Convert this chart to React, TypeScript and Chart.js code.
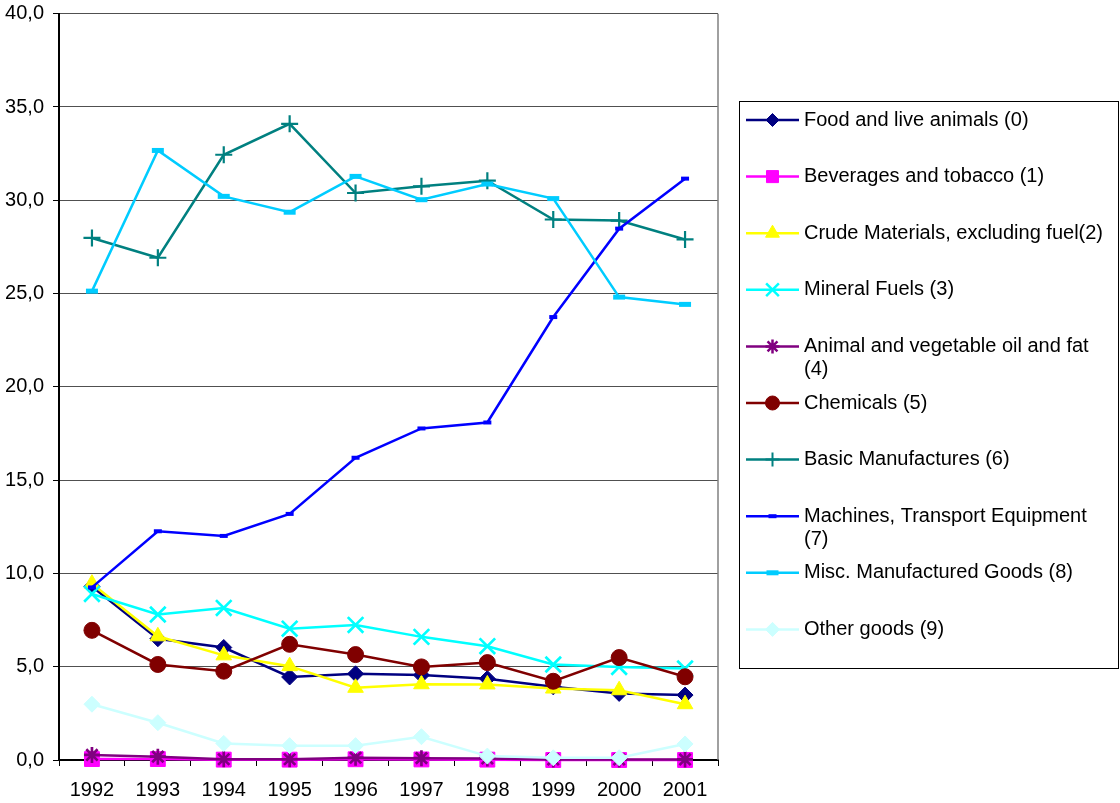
import React, { useEffect, useRef } from "react";
import { Chart, registerables } from "chart.js";
import { drawPoint } from "chart.js/helpers";

Chart.register(...registerables);

const years = ["1992", "1993", "1994", "1995", "1996", "1997", "1998", "1999", "2000", "2001"];

const food = [9.3, 6.5, 6.03, 4.45, 4.62, 4.55, 4.36, 3.92, 3.57, 3.48];
const beverages = [0.05, 0.05, 0.02, 0.02, 0.04, 0.03, 0.02, 0.0, 0.0, 0.0];
const crude = [9.45, 6.63, 5.61, 5.03, 3.87, 4.06, 4.05, 3.83, 3.74, 2.99];
const mineral = [8.9, 7.8, 8.15, 7.04, 7.24, 6.6, 6.1, 5.12, 4.99, 4.9];
const animalOil = [0.27, 0.18, 0.04, 0.04, 0.12, 0.1, 0.08, 0.03, 0.03, 0.03];
const chemicals = [6.95, 5.12, 4.76, 6.2, 5.65, 4.99, 5.22, 4.22, 5.49, 4.46];
const basic = [27.98, 26.92, 32.44, 34.1, 30.39, 30.75, 31.05, 28.97, 28.91, 27.9];
const machines = [9.25, 12.26, 12.01, 13.19, 16.2, 17.77, 18.09, 23.74, 28.48, 31.16];
const misc = [25.13, 32.67, 30.21, 29.36, 31.28, 30.03, 30.87, 30.09, 24.81, 24.42];
const other = [2.99, 2.0, 0.89, 0.77, 0.77, 1.25, 0.21, 0.12, 0.12, 0.86];

const seriesNames = [
  "Food and live animals (0)",
  "Beverages and tobacco (1)",
  "Crude Materials, excluding fuel(2)",
  "Mineral Fuels (3)",
  "Animal and vegetable oil and fat (4)",
  "Chemicals (5)",
  "Basic Manufactures (6)",
  "Machines, Transport Equipment (7)",
  "Misc. Manufactured Goods (8)",
  "Other goods (9)",
];
const seriesValues = [food, beverages, crude, mineral, animalOil, chemicals, basic, machines, misc, other];
const seriesColors = ["#000080", "#FF00FF", "#FFFF00", "#00FFFF", "#800080", "#800000", "#008080", "#0000FF", "#00CCFF", "#CCFFFF"];

type MarkerStyle = { style: string; radius: number; border: number; legendRadius: number; legendBorder: number };
const markers: MarkerStyle[] = [
  { style: "rectRot", radius: 8, border: 1, legendRadius: 6.5, legendBorder: 1 },
  { style: "rect", radius: 10.5, border: 1, legendRadius: 8.5, legendBorder: 1 },
  { style: "triangle", radius: 9, border: 1, legendRadius: 8, legendBorder: 1 },
  { style: "crossRot", radius: 11, border: 2.7, legendRadius: 9, legendBorder: 2.5 },
  { style: "star", radius: 8, border: 2.7, legendRadius: 7, legendBorder: 2.5 },
  { style: "circle", radius: 8, border: 1, legendRadius: 7, legendBorder: 1 },
  { style: "cross", radius: 8.5, border: 2.2, legendRadius: 7, legendBorder: 2 },
  { style: "line", radius: 4, border: 4, legendRadius: 4, legendBorder: 4 },
  { style: "line", radius: 6, border: 5, legendRadius: 6, legendBorder: 5 },
  { style: "rectRot", radius: 8, border: 1, legendRadius: 7, legendBorder: 1 },
];

const FONT = '"Liberation Sans", Arial, sans-serif';

// Boxed legend to the right of the plot, one row per series, wrapping long names.
const sideLegend = {
  id: "sideLegend",
  afterDraw(chart: any) {
    const ctx: CanvasRenderingContext2D = chart.ctx;
    const area = chart.chartArea;
    const boxLeft = area.right + 21.5;
    const boxTop = 101.5;
    const boxRight = 1118.5;
    const boxBottom = 668.5;
    const rowStep = 56.6;
    const firstRow = 120;
    const textX = boxLeft + 64.5;
    const maxText = boxRight - textX - 4;

    ctx.save();
    ctx.fillStyle = "#fff";
    ctx.fillRect(boxLeft, boxTop, boxRight - boxLeft, boxBottom - boxTop);
    ctx.strokeStyle = "#000";
    ctx.lineWidth = 1;
    ctx.strokeRect(boxLeft, boxTop, boxRight - boxLeft, boxBottom - boxTop);

    ctx.font = `20px ${FONT}`;
    ctx.textBaseline = "middle";
    ctx.textAlign = "left";

    chart.data.datasets.forEach((ds: any, i: number) => {
      const y = firstRow + i * rowStep;
      const m = markers[i];
      ctx.strokeStyle = ds.borderColor;
      ctx.lineWidth = ds.borderWidth;
      ctx.beginPath();
      ctx.moveTo(boxLeft + 6.5, y);
      ctx.lineTo(boxLeft + 59.5, y);
      ctx.stroke();

      ctx.fillStyle = ds.pointBackgroundColor;
      ctx.strokeStyle = ds.pointBorderColor;
      ctx.lineWidth = m.legendBorder;
      drawPoint(ctx, { pointStyle: m.style as any, radius: m.legendRadius, rotation: 0, borderWidth: m.legendBorder }, boxLeft + 33, y);

      // simple word wrap
      const words = String(ds.label).split(" ");
      const lines: string[] = [];
      let cur = "";
      for (const w of words) {
        const test = cur ? cur + " " + w : w;
        if (ctx.measureText(test).width > maxText && cur) {
          lines.push(cur);
          cur = w;
        } else {
          cur = test;
        }
      }
      if (cur) lines.push(cur);
      ctx.fillStyle = "#000";
      lines.forEach((ln, k) => ctx.fillText(ln, textX, y + k * 23));
    });
    ctx.restore();
  },
};

// Grey frame on the right edge of the plot area.
const plotFrame = {
  id: "plotFrame",
  beforeDatasetsDraw(chart: any) {
    const { ctx, chartArea } = chart;
    ctx.save();
    ctx.strokeStyle = "#808080";
    ctx.lineWidth = 1.5;
    ctx.beginPath();
    ctx.moveTo(chartArea.right, chartArea.top);
    ctx.lineTo(chartArea.right, chartArea.bottom);
    ctx.stroke();
    ctx.restore();
  },
};

export default function App() {
  const canvasRef = useRef<HTMLCanvasElement | null>(null);

  useEffect(() => {
    document.body.style.margin = "0";
    const canvas = canvasRef.current;
    if (!canvas) return;

    const datasets = seriesNames.map((name, i) => ({
      label: name,
      data: seriesValues[i],
      borderColor: seriesColors[i],
      backgroundColor: seriesColors[i],
      pointBackgroundColor: seriesColors[i],
      pointBorderColor: seriesColors[i],
      borderWidth: 2.5,
      pointStyle: markers[i].style as any,
      pointRadius: markers[i].radius,
      pointBorderWidth: markers[i].border,
      pointHoverRadius: markers[i].radius,
      tension: 0,
      fill: false,
      clip: false as any,
      order: seriesNames.length - i,
    }));

    const chart = new Chart(canvas, {
      type: "line",
      data: { labels: years, datasets },
      plugins: [sideLegend, plotFrame],
      options: {
        responsive: false,
        animation: false,
        devicePixelRatio: 1,
        layout: { padding: { top: 12, right: 402, left: 0, bottom: 0 } },
        font: { family: FONT, size: 20 },
        plugins: {
          legend: { display: false },
          tooltip: { enabled: false },
        },
        scales: {
          x: {
            type: "category",
            offset: true,
            border: { display: true, color: "#000", width: 2 },
            grid: {
              offset: true,
              drawOnChartArea: false,
              drawTicks: true,
              tickLength: 6,
              tickColor: "#000",
              color: "#000",
            },
            ticks: {
              color: "#000",
              font: { family: FONT, size: 20 },
              padding: 12,
              maxRotation: 0,
              autoSkip: false,
            },
            afterFit(axis: any) {
              axis.height = 43;
              axis.paddingLeft = 0;
              axis.paddingRight = 0;
            },
          },
          y: {
            min: 0,
            max: 40,
            border: { display: true, color: "#000", width: 2 },
            grid: {
              color: "#505050",
              lineWidth: 1,
              tickLength: 6,
              tickColor: "#000",
            },
            ticks: {
              stepSize: 5,
              color: "#000",
              padding: 9,
              font: { family: FONT, size: 20 },
              callback: (v: any) => Number(v).toFixed(1).replace(".", ","),
            },
            afterFit(axis: any) {
              axis.width = 59;
              axis.paddingTop = 0;
              axis.paddingBottom = 0;
            },
          },
        },
      },
    });

    return () => chart.destroy();
  }, []);

  return (
    <div style={{ width: 1120, height: 803, background: "#fff" }}>
      <canvas ref={canvasRef} width={1120} height={803} style={{ display: "block" }} />
    </div>
  );
}
